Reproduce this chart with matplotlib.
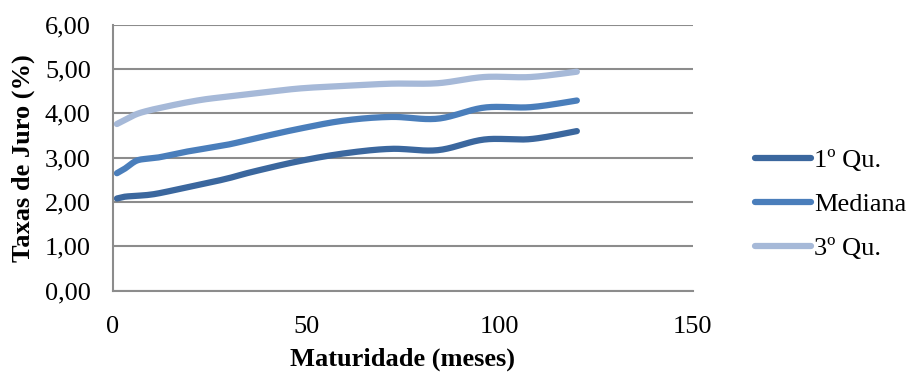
import numpy as np
import matplotlib
matplotlib.use("Agg")
import matplotlib.pyplot as plt

plt.rcParams['font.family'] = ['Liberation Serif', 'DejaVu Serif']

# Maturities in months and the interest-rate quartiles (%)
meses = [1, 3, 6, 9, 12, 18, 24, 30, 36, 48, 60, 72, 84, 96, 108, 120]
q1 = [2.08, 2.12, 2.14, 2.16, 2.20, 2.31, 2.42, 2.54, 2.68, 2.92, 3.10, 3.20, 3.17, 3.41, 3.42, 3.60]
mediana = [2.65, 2.75, 2.93, 2.98, 3.01, 3.12, 3.21, 3.30, 3.42, 3.65, 3.84, 3.92, 3.88, 4.13, 4.14, 4.29]
q3 = [3.76, 3.85, 3.98, 4.06, 4.12, 4.23, 4.32, 4.38, 4.44, 4.56, 4.62, 4.67, 4.68, 4.82, 4.82, 4.94]

series = [("1º Qu.", q1, "#3b679e"), ("Mediana", mediana, "#4a7ebb"), ("3º Qu.", q3, "#a6b9d8")]


def smooth(x, y, n=20):
    """Catmull-Rom style smoothing between consecutive points (as in smoothed line charts)."""
    x = np.asarray(x, float)
    y = np.asarray(y, float)
    px = np.concatenate([[x[0]], x, [x[-1]]])
    py = np.concatenate([[y[0]], y, [y[-1]]])
    xs, ys = [], []
    for i in range(1, len(px) - 2):
        p0, p1, p2, p3 = (np.array([px[j], py[j]]) for j in (i - 1, i, i + 1, i + 2))
        c1 = p1 + (p2 - p0) / 6
        c2 = p2 - (p3 - p1) / 6
        t = np.linspace(0, 1, n)[:, None]
        b = ((1 - t) ** 3) * p1 + 3 * ((1 - t) ** 2) * t * c1 + 3 * (1 - t) * t ** 2 * c2 + t ** 3 * p2
        xs.append(b[:, 0])
        ys.append(b[:, 1])
    return np.concatenate(xs), np.concatenate(ys)


FS = 19

fig = plt.figure(figsize=(9.08, 3.72), dpi=100)
ax = fig.add_axes([0.1245, 0.2185, 0.6385, 0.7151])

for nome, vals, cor in series:
    sx, sy = smooth(meses, vals)
    ax.plot(sx, sy, color=cor, lw=4.5, solid_capstyle='round', label=nome)

ax.set_xlim(0, 150)
ax.set_ylim(0, 6)
ax.set_xticks([0, 50, 100, 150])
ax.set_yticks(np.arange(0, 6.01, 1))
ax.set_yticklabels([f"{v:.2f}".replace('.', ',') for v in np.arange(0, 6.01, 1)])
ax.yaxis.grid(True, color='#8c8c8c', lw=1.5)
ax.set_axisbelow(True)
for s in ['top', 'right']:
    ax.spines[s].set_visible(False)
for s in ['left', 'bottom']:
    ax.spines[s].set_color('#8c8c8c')
    ax.spines[s].set_linewidth(1.5)
ax.tick_params(axis='both', length=0, labelsize=FS, colors='black')
ax.tick_params(axis='x', pad=18.5)
ax.tick_params(axis='y', pad=16)

ax.set_xlabel("Maturidade (meses)", fontsize=FS, fontweight='bold', labelpad=6.5)
ax.set_ylabel("Taxas de Juro (%)", fontsize=FS, fontweight='bold', labelpad=7)

leg = ax.legend(loc='center left', bbox_to_anchor=(0.805, 0.45), bbox_transform=fig.transFigure,
                frameon=False, fontsize=FS, handlelength=2.15, handletextpad=0.1, labelspacing=0.78)

fig.savefig("out.png", dpi=100)
